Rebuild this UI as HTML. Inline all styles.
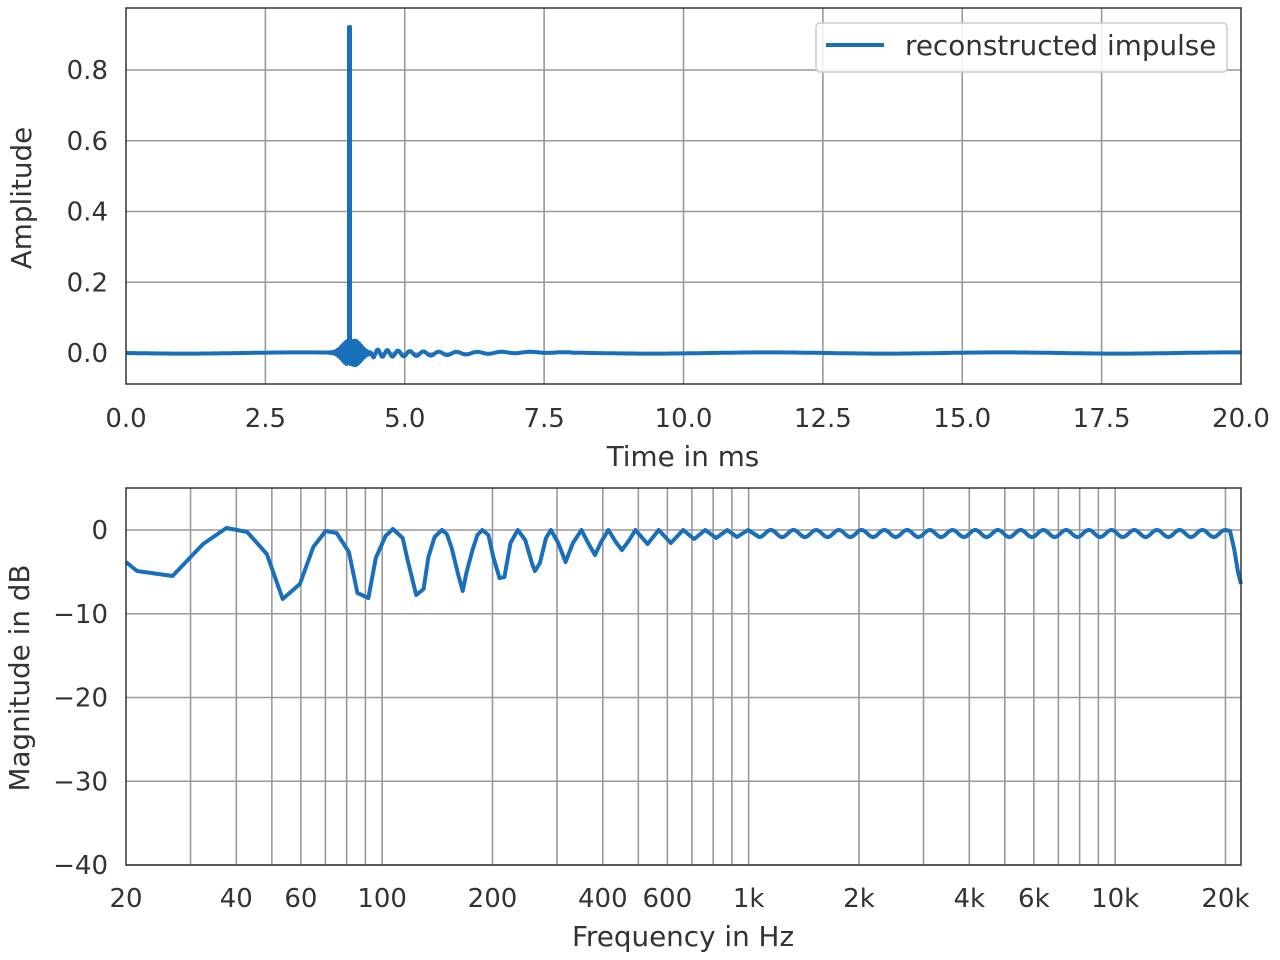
<!DOCTYPE html>
<html><head><meta charset="utf-8"><style>
body{margin:0;background:#fff;}
svg{display:block;font-family:"DejaVu Sans","Liberation Sans",sans-serif;}
.t{font-size:26px;fill:#333;}
.l{font-size:27.8px;fill:#333;}
.g{stroke:#999;stroke-width:1.6;}
</style></head><body>
<svg id="s" width="1280" height="960" xmlns="http://www.w3.org/2000/svg">
<g id="grid"></g>
<path id="p1" fill="none" stroke="#1a6fba" stroke-width="4" stroke-linejoin="round"/>
<path id="p2" fill="none" stroke="#1a6fba" stroke-width="4" stroke-linejoin="round"/>
<rect x="126" y="8" width="1115" height="376" fill="none" stroke="#333" stroke-width="1.5"/>
<rect x="126" y="488" width="1115" height="377" fill="none" stroke="#333" stroke-width="1.5"/>
<g id="txt"></g>
<rect x="816" y="23" width="411" height="49" rx="4" fill="#fff" fill-opacity="0.85" stroke="#ccc" stroke-width="1.5"/>
<line x1="826" y1="45" x2="884" y2="45" stroke="#1a6fba" stroke-width="4"/>
<text x="905" y="55" class="l">reconstructed impulse</text>
<text x="683" y="466" class="l" text-anchor="middle">Time in ms</text>
<text x="683" y="946" class="l" text-anchor="middle">Frequency in Hz</text>
<text transform="translate(31,198) rotate(-90)" class="l" text-anchor="middle">Amplitude</text>
<text transform="translate(29,678) rotate(-90)" class="l" text-anchor="middle">Magnitude in dB</text>
</svg>
<script>
var NS="http://www.w3.org/2000/svg",grid=document.getElementById('grid'),txt=document.getElementById('txt');
function ln(x1,y1,x2,y2){var e=document.createElementNS(NS,'line');e.setAttribute('x1',x1);e.setAttribute('y1',y1);e.setAttribute('x2',x2);e.setAttribute('y2',y2);e.setAttribute('class','g');grid.appendChild(e);}
function tx(x,y,s,a){var e=document.createElementNS(NS,'text');e.setAttribute('x',x);e.setAttribute('y',y);e.setAttribute('class','t');e.setAttribute('text-anchor',a);e.textContent=s;txt.appendChild(e);}
for(var i=0;i<=8;i++){var x=126+i*2.5*55.75;if(i>0&&i<8)ln(x,8,x,384);tx(x,427,(i*2.5).toFixed(1),'middle');}
for(var i=0;i<=4;i++){var y=353-i*70.75;ln(126,y,1241,y);tx(108,y+9,(i*0.2).toFixed(1),'end');}
var dec=1115/Math.log10(22050/20);function fx(f){return 126+dec*Math.log10(f/20);}
var fs=[30,40,50,60,70,80,90,100,200,300,400,500,600,700,800,900,1000,2000,3000,4000,5000,6000,7000,8000,9000,10000,20000];
fs.forEach(function(f){ln(fx(f),488,fx(f),865);});
[[20,'20'],[40,'40'],[60,'60'],[100,'100'],[200,'200'],[400,'400'],[600,'600'],[1000,'1k'],[2000,'2k'],[4000,'4k'],[6000,'6k'],[10000,'10k'],[20000,'20k']].forEach(function(a){tx(fx(a[0]),907,a[1],'middle');});
for(var i=0;i<=4;i++){var y=530+i*10*8.375;ln(126,y,1241,y);tx(108,y+9,i==0?'0':'\u2212'+(i*10),'end');}
var d='M126,353';
for(var x=126;x<=1241;x+=0.5){var t=(x-126)/55.75,y=353+0.6*Math.sin(t*1.5);
 if(t>3.5&&t<4.5){var a=Math.exp(-Math.pow((t-4.05)/0.2,2))*15;y+=a*Math.sin(t*180);}
 if(t>4.4&&t<8){var a=4*Math.exp(-(t-4.4)/1.5);y+=a*Math.sin(2*Math.PI*(t-4.4)/(0.15+0.05*(t-4.4)));}
 if(Math.abs(t-4.0)<0.01){d+=' L349,353 L349,27 L350,27 L350,353';continue;}
 d+=' L'+x+','+y.toFixed(1);}
document.getElementById('p1').setAttribute('d',d);
var pts=[[126,562],[135,571],[164,576],[189,544],[208,528],[225,532],[241,554],[254,599],[268,584],[279,547],[289,531],[298,533],[308,552],[315,593],[324,598],[330,558],[338,536],[344,529],[352,538],[356,560],[363,595],[369,589],[373,557],[378,537],[384,530],[388,534],[392,548],[397,573],[401,591],[404,573],[409,550],[413,535],[417,530],[422,535],[426,557],[431,578],[435,577],[440,543],[446,530],[452,540],[458,565],[460,571],[464,563],[469,538],[473,530],[479,543],[485,562],[491,543],[498,530],[503,542],[509,555],[514,542],[520,530],[526,542],[531,550],[536,542],[542,530],[552,544],[561,530],[571,543],[581,530],[590,539],[599,530],[608,538],[617,530],[625,537],[634,530],[643,537]];
var k=3/2.45;
pts=pts.map(function(p){return [(126+(p[0]-126)*k).toFixed(1),p[1]];});
var d2='M'+pts.map(function(p){return p.join(',');}).join(' L');
var x0=126+(634-126)*k, per=(1225-x0)/Math.round((1225-x0)/22.5);
for(var x=x0+9*k;x<=1226;x+=0.5){var ph=(x-x0)/per*2*Math.PI;d2+=' L'+x.toFixed(1)+','+(533.5-3.5*Math.cos(ph)).toFixed(1);}
d2+=' L1230,531 L1234,548 L1238,572 L1241,584';
document.getElementById('p2').setAttribute('d',d2);
</script>
</body></html>
